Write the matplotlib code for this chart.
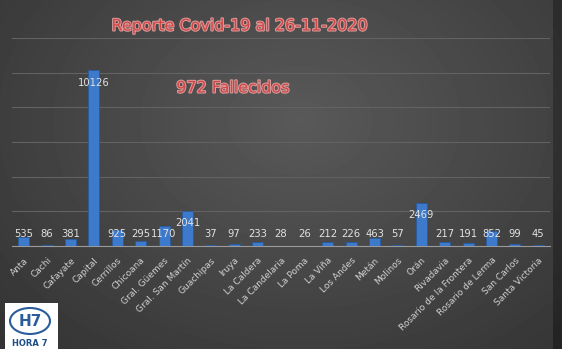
import matplotlib.pyplot as plt
import matplotlib.patheffects as pe
from matplotlib.patches import Ellipse, Rectangle
import numpy as np

# Departamentos and confirmed cases
deptos = ['Anta', 'Cachi', 'Cafayate', 'Capital', 'Cerrillos', 'Chicoana',
          'Gral. Güemes', 'Gral. San Martín', 'Guachipas', 'Iruya', 'La Caldera',
          'La Candelaria', 'La Poma', 'La Viña', 'Los Andes', 'Metán', 'Molinos',
          'Orán', 'Rivadavia', 'Rosario de la Frontera', 'Rosario de Lerma',
          'San Carlos', 'Santa Victoria']
casos = [535, 86, 381, 10126, 925, 295, 1170, 2041, 37, 97, 233, 28, 26,
         212, 226, 463, 57, 2469, 217, 191, 852, 99, 45]

titulo = 'Reporte Covid-19 al 26-11-2020'
subtitulo = '972 Fallecidos'

fig = plt.figure(figsize=(5.62, 3.49), dpi=100)

# dark gradient background
bg = fig.add_axes([0, 0, 1, 1])
yy, xx = np.mgrid[0:349, 0:562]
d = np.sqrt(((xx - 300) / 420.0) ** 2 + ((yy - 120) / 320.0) ** 2)
g = 0.35 - 0.15 * d
g[:, 553:] -= 0.07
bg.imshow(np.clip(g, 0, 1), cmap='gray', vmin=0, vmax=1, aspect='auto')
bg.axis('off')

ax = fig.add_axes([12 / 562, 1 - 246 / 349, 538 / 562, 208 / 349])
ax.patch.set_alpha(0)
x = np.arange(len(deptos))
ax.bar(x, casos, width=0.47, color='#3d7acb', edgecolor='#2a5a9c', linewidth=0.6, zorder=3)
ax.set_xlim(-0.5, len(deptos) - 0.5)
ax.set_ylim(0, 12000)
ax.set_yticks(np.arange(0, 12001, 2000))
ax.yaxis.grid(True, color='#626262', linewidth=0.8)
ax.tick_params(axis='y', left=False, labelleft=False)
ax.tick_params(axis='x', length=0, pad=7)
for s in ['top', 'right', 'left']:
    ax.spines[s].set_visible(False)
ax.spines['bottom'].set_color('#9a9a9a')
ax.set_xticks(x)
ax.set_xticklabels(deptos, rotation=45, ha='right', rotation_mode='anchor',
                   fontsize=6.5, color='#d0d0d0')

for xi, v in zip(x, casos):
    ypos = v - 700 if v > 1500 else 700
    ax.text(xi, ypos, str(v), ha='center', va='center', fontsize=7.2, color='#e2e2e2', zorder=4)

glow = [pe.withStroke(linewidth=1.5, foreground='#d89a9a')]
fig.text(240 / 562, 1 - 26 / 349, titulo, ha='center', va='center', fontsize=11.5,
         color='#d24646', path_effects=glow)
fig.text(233 / 562, 1 - 88 / 349, subtitulo, ha='center', va='center', fontsize=11.5,
         color='#d24646', path_effects=glow)

# logo
lg = fig.add_axes([5 / 562, 0, 53 / 562, 46 / 349])
lg.set_xlim(0, 53)
lg.set_ylim(0, 46)
lg.axis('off')
lg.add_patch(Rectangle((0, 0), 53, 46, color='white'))
lg.add_patch(Ellipse((25, 28), 40, 26, fill=False, edgecolor='#2a5d9a', linewidth=1.5))
lg.text(25, 28, 'H7', ha='center', va='center', fontsize=11, fontweight='bold', color='#2a5d9a')
lg.text(25, 6, 'HORA 7', ha='center', va='center', fontsize=6, fontweight='bold', color='#1e4f8a')

fig.savefig('out.png', dpi=100)
